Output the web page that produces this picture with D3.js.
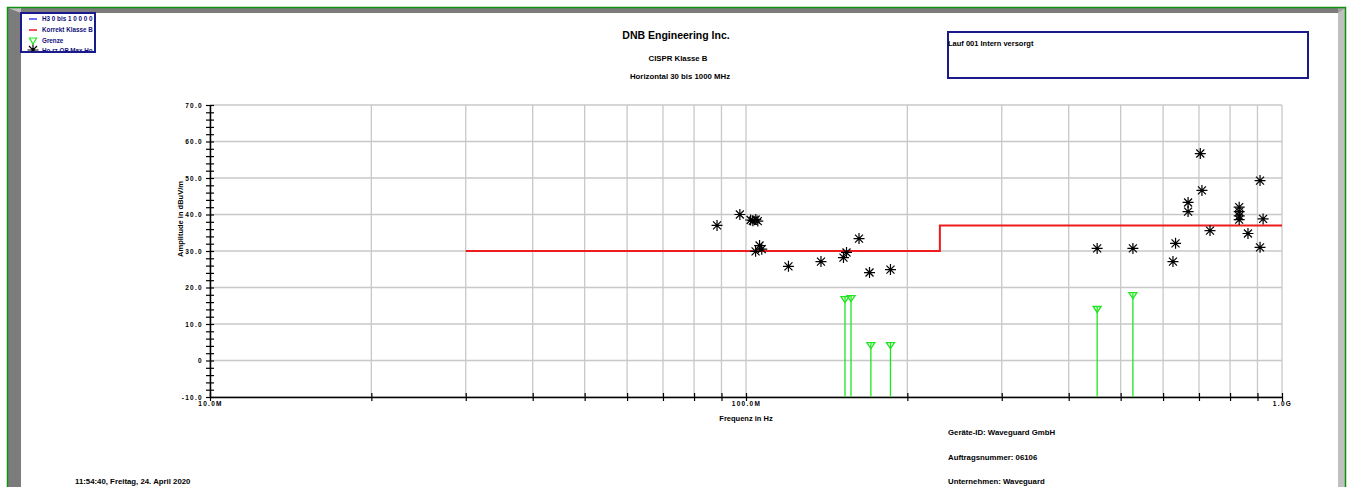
<!DOCTYPE html>
<html>
<head>
<meta charset="utf-8">
<script src="https://cdn.jsdelivr.net/npm/d3@7"></script>
<style>
  html, body { margin: 0; padding: 0; background: #ffffff; }
  svg { display: block; font-family: "Liberation Sans", Arial, sans-serif; font-weight: bold; }
</style>
</head>
<body>
<div id="chart"></div>
<script>
// Frequencies in MHz, levels in dBuV/m
const qpFreq  = [88.3, 97.4, 102.0, 103.0, 104.3, 105.2, 104.2, 106.0, 107.0, 120.0, 138.0, 152.0, 154.0, 162.5, 170.0, 186.0,
                 452, 527, 626, 633, 668, 668, 704, 709, 734, 832, 832, 832, 832, 864, 910, 922, 910];
const qpLevel = [37.0, 40.0, 38.5, 38.3, 38.6, 38.2, 29.9, 31.5, 30.5, 25.8, 27.1, 28.2, 29.6, 33.4, 24.1, 24.9,
                 30.7, 30.7, 27.1, 32.1, 40.8, 43.3, 56.7, 46.6, 35.6, 42.0, 40.8, 39.6, 38.6, 34.8, 49.3, 38.8, 31.0];

const limitFreq  = [30, 230, 1000];
const limitLevel = [30, 37, 37];

const grenzeFreq  = [153, 157, 171, 186, 452, 527];
const grenzeLevel = [17.5, 17.8, 4.9, 4.9, 14.8, 18.6];

const yTicks = [-10, 0, 10, 20, 30, 40, 50, 60, 70];
const yTickLabels = ["-10.0", "0", "10.0", "20.0", "30.0", "40.0", "50.0", "60.0", "70.0"];
const xGridMHz = [10, 20, 30, 40, 50, 60, 70, 80, 90, 100, 200, 300, 400, 500, 600, 700, 800, 900, 1000];
const xLabelMHz = [10, 100, 1000];
const xLabels = ["10.0M", "100.0M", "1.0G"];

const legendItems = ["H3 0 bis 1 0 0 0 0", "Korrekt Klasse B", "Grenze", "Ho rz QP Max Ho"];

const width = 1352, height = 487;
const plot = { left: 210, right: 1282, top: 105, bottom: 397 };

const svg = d3.select("#chart")
  .append("svg")
  .attr("width", width)
  .attr("height", height);

/*******************************/
/*        Window frame         */
/*******************************/
svg.append("rect").attr("x", 8).attr("y", 8).attr("width", 13).attr("height", height).attr("fill", "#7c7c7c");
svg.append("rect").attr("x", 8).attr("y", 8).attr("width", 1330).attr("height", 5).attr("fill", "#7c7c7c");
svg.append("rect").attr("x", 1338).attr("y", 8).attr("width", 7).attr("height", height).attr("fill", "#c0c0c0");
svg.append("path").attr("d", "M21,13 L8,8 L21,8 Z").attr("fill", "#c0c0c0");
svg.append("path").attr("d", "M1338,13 L1345,8 L1338,8 Z").attr("fill", "#a0a0a0");
svg.append("path")
  .attr("d", `M7.5,${height} V7.5 H1345.5 V${height}`)
  .attr("fill", "none")
  .attr("stroke", "#109010")
  .attr("stroke-width", 1.5);

/*******************************/
/*           Scales            */
/*******************************/
const xScale = d3.scaleLog()
  .domain([10, 1000])
  .range([plot.left, plot.right]);

const yScale = d3.scaleLinear()
  .domain([-10, 70])
  .range([plot.bottom, plot.top]);

/*******************************/
/*            Grid             */
/*******************************/
const grid = svg.append("g").attr("stroke", "#c8c8c8").attr("stroke-width", 1.3);
grid.selectAll(".vgrid")
  .data(xGridMHz)
  .join("line")
    .attr("x1", d => xScale(d))
    .attr("x2", d => xScale(d))
    .attr("y1", plot.top)
    .attr("y2", plot.bottom);
grid.selectAll(".hgrid")
  .data(yTicks)
  .join("line")
    .attr("x1", plot.left)
    .attr("x2", plot.right)
    .attr("y1", d => yScale(d))
    .attr("y2", d => yScale(d));

/*******************************/
/*            Axes             */
/*******************************/
const leftAxis = d3.axisLeft(yScale)
  .tickValues(d3.range(-10, 71, 2))
  .tickSize(4)
  .tickSizeOuter(0)
  .tickFormat(d => {
    const i = yTicks.indexOf(d);
    return i >= 0 ? yTickLabels[i] : "";
  });

const yAxisG = svg.append("g")
  .attr("transform", `translate(${plot.left}, 0)`)
  .call(leftAxis);
yAxisG.select(".domain").attr("stroke", "#000").attr("stroke-width", 1.5);
yAxisG.selectAll(".tick line").attr("x1", 4).attr("stroke", "#000").attr("stroke-width", 1.2);
yAxisG.selectAll(".tick text")
  .attr("x", -7)
  .attr("font-size", 6.5)
  .attr("font-weight", "bold")
  .attr("font-family", "Liberation Sans, Arial, sans-serif")
  .attr("letter-spacing", 1.3)
  .attr("fill", "#000");

const bottomAxis = d3.axisBottom(xScale)
  .tickValues(xGridMHz)
  .tickSize(4)
  .tickSizeOuter(0)
  .tickFormat(d => {
    const i = xLabelMHz.indexOf(d);
    return i >= 0 ? xLabels[i] : "";
  });

const xAxisG = svg.append("g")
  .attr("transform", `translate(0, ${plot.bottom})`)
  .call(bottomAxis);
xAxisG.select(".domain").attr("stroke", "#000").attr("stroke-width", 1.5);
xAxisG.selectAll(".tick line").attr("y1", -4).attr("stroke", "#000").attr("stroke-width", 1.2);
xAxisG.selectAll(".tick text")
  .attr("y", 4)
  .attr("font-size", 6.5)
  .attr("font-weight", "bold")
  .attr("font-family", "Liberation Sans, Arial, sans-serif")
  .attr("letter-spacing", 1.3)
  .attr("fill", "#000");

svg.append("text")
  .attr("transform", `translate(183, ${(plot.top + plot.bottom) / 2 - 32}) rotate(-90)`)
  .attr("text-anchor", "middle")
  .attr("font-size", 7.5)
  .text("Amplitude in dBuV/m");

svg.append("text")
  .attr("x", xScale(100))
  .attr("y", 421)
  .attr("text-anchor", "middle")
  .attr("font-size", 7.5)
  .text("Frequenz in Hz");

/*******************************/
/*           Series            */
/*******************************/
const limitLine = d3.line()
  .x((d, i) => xScale(limitFreq[i]))
  .y(d => yScale(d))
  .curve(d3.curveStepAfter);

svg.append("path")
  .attr("d", limitLine(limitLevel))
  .attr("fill", "none")
  .attr("stroke", "#ee1c1c")
  .attr("stroke-width", 2);

// Grenze stems with downward triangles
const grenze = svg.append("g").attr("stroke", "#1ee61e").attr("fill", "none").attr("stroke-width", 1.3);
grenzeFreq.forEach((f, i) => {
  const x = xScale(f), y = yScale(grenzeLevel[i]);
  grenze.append("line")
    .attr("x1", x).attr("x2", x)
    .attr("y1", y).attr("y2", plot.bottom);
  grenze.append("path")
    .attr("d", `M${x - 4},${y} H${x + 4} L${x},${y + 6} Z`);
});

// QP asterisks
const star = "M-5.5,0H5.5M0,-5.5V5.5M-4,-4L4,4M-4,4L4,-4";
svg.append("g")
  .selectAll("path")
  .data(qpLevel)
  .join("path")
    .attr("transform", (d, i) => `translate(${xScale(qpFreq[i])}, ${yScale(d)})`)
    .attr("d", star)
    .attr("stroke", "#000")
    .attr("stroke-width", 1.2);

/*******************************/
/*           Legend            */
/*******************************/
svg.append("clipPath").attr("id", "legclip")
  .append("rect").attr("x", 21).attr("y", 13).attr("width", 74).attr("height", 39);

const legend = svg.append("g");
legend.append("rect")
  .attr("x", 21).attr("y", 13).attr("width", 74).attr("height", 39)
  .attr("fill", "#fff");

const legInner = legend.append("g").attr("clip-path", "url(#legclip)");
const legY = [19, 30, 41, 51];
legInner.selectAll("text")
  .data(legendItems)
  .join("text")
    .attr("x", 42)
    .attr("y", (d, i) => legY[i] + 2.3)
    .attr("font-size", 6.3)
    .attr("fill", "#10107a")
    .text(d => d);

legInner.append("line").attr("x1", 29).attr("x2", 37).attr("y1", legY[0]).attr("y2", legY[0])
  .attr("stroke", "#2020ff").attr("stroke-width", 1.3);
legInner.append("line").attr("x1", 29).attr("x2", 37).attr("y1", legY[1]).attr("y2", legY[1])
  .attr("stroke", "#ee1c1c").attr("stroke-width", 1.5);
legInner.append("path").attr("d", `M29.5,${legY[2] - 3} H36.5 L33,${legY[2] + 3} Z`)
  .attr("fill", "none").attr("stroke", "#1ee61e").attr("stroke-width", 1.2);
legInner.append("path").attr("transform", `translate(33, ${legY[3] - 1})`).attr("d", star)
  .attr("stroke", "#000").attr("stroke-width", 1.2);

legend.append("rect")
  .attr("x", 21).attr("y", 13).attr("width", 74).attr("height", 39)
  .attr("fill", "none").attr("stroke", "#1a1a8c").attr("stroke-width", 2);

/*******************************/
/*        Header & footer      */
/*******************************/
svg.append("text").attr("x", 676).attr("y", 39).attr("text-anchor", "middle")
  .attr("font-size", 10.5).text("DNB Engineering Inc.");
svg.append("text").attr("x", 678).attr("y", 61).attr("text-anchor", "middle")
  .attr("font-size", 7.8).text("CISPR Klasse B");
svg.append("text").attr("x", 680).attr("y", 79).attr("text-anchor", "middle")
  .attr("font-size", 7.8).text("Horizontal 30 bis 1000 MHz");

svg.append("rect")
  .attr("x", 948).attr("y", 32).attr("width", 360).attr("height", 46)
  .attr("fill", "#fff").attr("stroke", "#1a1a8c").attr("stroke-width", 2);
svg.append("text").attr("x", 948).attr("y", 46).attr("font-size", 7.5).text("Lauf 001 Intern versorgt");

svg.append("text").attr("x", 948).attr("y", 435).attr("font-size", 7.8).text("Geräte-ID: Waveguard GmbH");
svg.append("text").attr("x", 948).attr("y", 460).attr("font-size", 7.8).text("Auftragsnummer: 06106");
svg.append("text").attr("x", 948).attr("y", 484).attr("font-size", 7.8).text("Unternehmen: Waveguard");
svg.append("text").attr("x", 75).attr("y", 484).attr("font-size", 7.8).text("11:54:40, Freitag, 24. April 2020");
</script>
</body>
</html>
